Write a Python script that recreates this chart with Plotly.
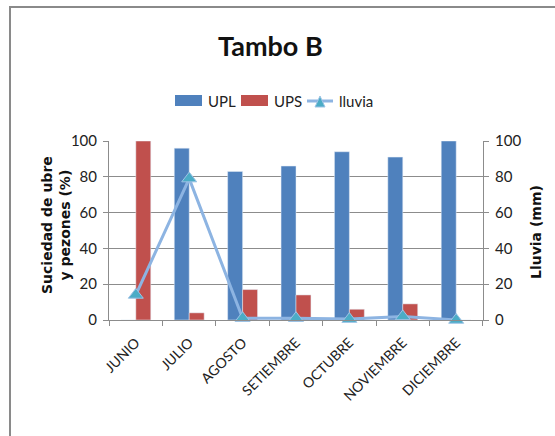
import plotly.graph_objects as go

# Monthly data for Tambo B
meses = ["JUNIO", "JULIO", "AGOSTO", "SETIEMBRE", "OCTUBRE", "NOVIEMBRE", "DICIEMBRE"]
upl = [0, 96, 83, 86, 94, 91, 100]
ups = [100, 4, 17, 14, 6, 9, 0]
lluvia = [14, 79, 1, 1, 0.5, 2, 0]
y_ticks = [0, 20, 40, 60, 80, 100]

C_UPL, C_UPS = "#4F81BD", "#C0504D"
C_LINE, C_MARK = "#8DB4E2", "#4BACC6"
FONT = "Lato"

W, H = 555, 436
L, R, T, B = 109, 483, 141, 320  # plot area in pixels


def px(x):
    return (x - L) / (R - L)


def py(y):
    return (B - y) / (B - T)


fig = go.Figure()
fig.add_trace(go.Bar(x=meses, y=upl, name="UPL", marker_color=C_UPL))
fig.add_trace(go.Bar(x=meses, y=ups, name="UPS", marker_color=C_UPS))
fig.add_trace(go.Scatter(
    x=meses, y=lluvia, name="lluvia", yaxis="y2", mode="lines+markers",
    line=dict(color=C_LINE, width=3),
    marker=dict(symbol="triangle-up", size=13, color=C_MARK,
                line=dict(color="#9DC3E6", width=1)),
    cliponaxis=False,
))

axis_font = dict(family=FONT, size=15, color="#222222")
legend_font = dict(family=FONT, size=15, color="#222222")

# hand-drawn legend row (wide swatches)
shapes = [
    dict(type="rect", xref="paper", yref="paper",
         x0=px(10), y0=py(460), x1=px(620), y1=py(7),
         line=dict(color="#8a8a8a", width=2), layer="below"),
    dict(type="rect", xref="paper", yref="paper", x0=px(175), x1=px(202),
         y0=py(106), y1=py(95), fillcolor=C_UPL, line=dict(width=0)),
    dict(type="rect", xref="paper", yref="paper", x0=px(241), x1=px(268),
         y0=py(106), y1=py(95), fillcolor=C_UPS, line=dict(width=0)),
    dict(type="line", xref="paper", yref="paper", x0=px(307), x1=px(333),
         y0=py(101), y1=py(101), line=dict(color=C_LINE, width=3)),
    dict(type="path", xref="paper", yref="paper",
         path=f"M {px(315)} {py(107)} L {px(325)} {py(107)} L {px(320)} {py(96)} Z",
         fillcolor=C_MARK, line=dict(color="#9DC3E6", width=1)),
]

annotations = [
    dict(text="<b>Tambo B</b>", xref="paper", yref="paper", x=px(270), y=py(46),
         showarrow=False, font=dict(family=FONT, size=27, color="#111111"),
         xanchor="center", yanchor="middle"),
    dict(text="<b>Suciedad de ubre<br>y pezones (%)</b>", xref="paper", yref="paper",
         x=px(56), y=py(225), textangle=-90, showarrow=False,
         font=dict(family="DejaVu Sans", size=14, color="#111111"),
         xanchor="center", yanchor="middle"),
    dict(text="<b>Lluvia (mm)</b>", xref="paper", yref="paper",
         x=px(536), y=py(232), textangle=-90, showarrow=False,
         font=dict(family="DejaVu Sans", size=14, color="#111111"),
         xanchor="center", yanchor="middle"),
]
for name, x in [("UPL", 206), ("UPS", 272), ("lluvia", 337)]:
    annotations.append(dict(text=name, xref="paper", yref="paper", x=px(x), y=py(101),
                            showarrow=False, font=legend_font,
                            xanchor="left", yanchor="middle"))

fig.update_layout(
    width=W, height=H,
    margin=dict(l=L, r=W - R, t=T, b=H - B, pad=0),
    paper_bgcolor="white", plot_bgcolor="white",
    barmode="group", bargap=0.44, bargroupgap=0,
    showlegend=False,
    xaxis=dict(
        type="category", tickangle=-45, tickson="boundaries",
        ticks="outside", ticklen=5, tickcolor="#8c8c8c",
        showline=True, linecolor="#8c8c8c", linewidth=1,
        tickfont=dict(family=FONT, size=14, color="#222222"),
        ticklabelstandoff=8, showgrid=False,
    ),
    yaxis=dict(
        range=[0, 100], tickvals=y_ticks, ticks="outside", ticklen=5, tickcolor="#8c8c8c",
        showline=True, linecolor="#8c8c8c", showgrid=True, gridcolor="#8c8c8c",
        gridwidth=1, tickfont=axis_font, zeroline=False, ticklabelstandoff=3,
    ),
    yaxis2=dict(
        range=[0, 100], tickvals=y_ticks, overlaying="y", side="right",
        ticks="outside", ticklen=5, tickcolor="#8c8c8c",
        showline=True, linecolor="#8c8c8c", showgrid=False, tickfont=axis_font,
        zeroline=False, ticklabelstandoff=3,
    ),
    shapes=shapes,
    annotations=annotations,
)

fig.write_html("out.html")
